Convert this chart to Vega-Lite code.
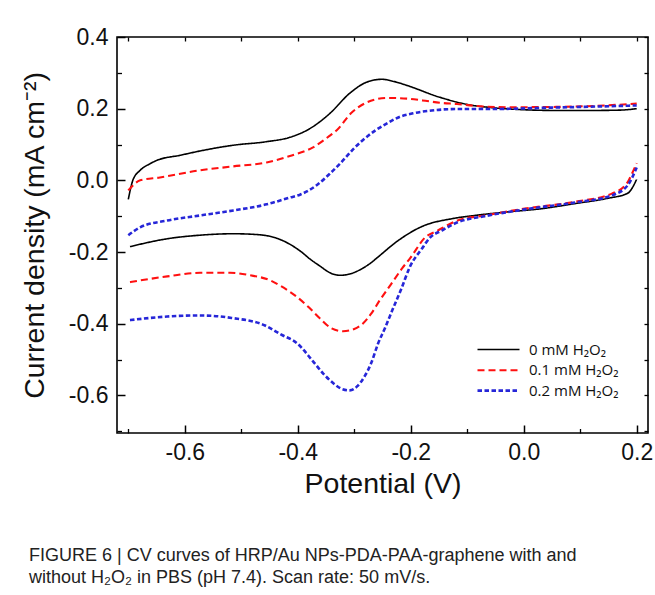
{
 "$schema": "https://vega.github.io/schema/vega-lite/v6.json",
 "width": 531, "height": 396,
 "autosize": {"type": "none"},
 "padding": {"left": 117, "top": 37, "right": 7, "bottom": 162},
 "background": "white",
 "config": {"view": {"stroke": "#000", "strokeWidth": 1.6}, "font": "Liberation Sans"},
 "title": {"text": ["FIGURE 6 | CV curves of HRP/Au NPs-PDA-PAA-graphene with and", "without H₂O₂ in PBS (pH 7.4). Scan rate: 50 mV/s."], "orient": "bottom", "anchor": "start", "frame": "group", "dx": -88, "offset": 49, "fontSize": 18, "fontWeight": "normal", "font": "Liberation Sans", "color": "#222", "lineHeight": 22, "align": "left"},
 "data": {"values": [
  {"c":"0","b":"u","x":-0.700,"y":-0.053},{"c":"0","b":"u","x":-0.692,"y":0.000},{"c":"0","b":"u","x":-0.679,"y":0.028},{"c":"0","b":"u","x":-0.662,"y":0.046},{"c":"0","b":"u","x":-0.649,"y":0.056},{"c":"0","b":"u","x":-0.608,"y":0.070},{"c":"0","b":"u","x":-0.573,"y":0.082},{"c":"0","b":"u","x":-0.514,"y":0.098},{"c":"0","b":"u","x":-0.455,"y":0.108},{"c":"0","b":"u","x":-0.414,"y":0.120},{"c":"0","b":"u","x":-0.378,"y":0.145},{"c":"0","b":"u","x":-0.343,"y":0.187},{"c":"0","b":"u","x":-0.308,"y":0.243},{"c":"0","b":"u","x":-0.278,"y":0.274},{"c":"0","b":"u","x":-0.251,"y":0.282},{"c":"0","b":"u","x":-0.230,"y":0.276},{"c":"0","b":"u","x":-0.207,"y":0.265},{"c":"0","b":"u","x":-0.149,"y":0.232},{"c":"0","b":"u","x":-0.090,"y":0.209},{"c":"0","b":"u","x":-0.057,"y":0.203},{"c":"0","b":"u","x":0.000,"y":0.197},{"c":"0","b":"u","x":0.060,"y":0.195},{"c":"0","b":"u","x":0.120,"y":0.195},{"c":"0","b":"u","x":0.170,"y":0.196},{"c":"0","b":"u","x":0.200,"y":0.200},
  {"c":"0","b":"d","x":-0.697,"y":-0.185},{"c":"0","b":"d","x":-0.631,"y":-0.163},{"c":"0","b":"d","x":-0.573,"y":-0.153},{"c":"0","b":"d","x":-0.514,"y":-0.149},{"c":"0","b":"d","x":-0.475,"y":-0.151},{"c":"0","b":"d","x":-0.440,"y":-0.160},{"c":"0","b":"d","x":-0.419,"y":-0.174},{"c":"0","b":"d","x":-0.395,"y":-0.198},{"c":"0","b":"d","x":-0.378,"y":-0.220},{"c":"0","b":"d","x":-0.360,"y":-0.240},{"c":"0","b":"d","x":-0.343,"y":-0.258},{"c":"0","b":"d","x":-0.325,"y":-0.265},{"c":"0","b":"d","x":-0.305,"y":-0.260},{"c":"0","b":"d","x":-0.287,"y":-0.247},{"c":"0","b":"d","x":-0.272,"y":-0.232},{"c":"0","b":"d","x":-0.258,"y":-0.214},{"c":"0","b":"d","x":-0.224,"y":-0.170},{"c":"0","b":"d","x":-0.179,"y":-0.128},{"c":"0","b":"d","x":-0.127,"y":-0.107},{"c":"0","b":"d","x":-0.087,"y":-0.098},{"c":"0","b":"d","x":-0.028,"y":-0.088},{"c":"0","b":"d","x":0.032,"y":-0.079},{"c":"0","b":"d","x":0.090,"y":-0.065},{"c":"0","b":"d","x":0.149,"y":-0.050},{"c":"0","b":"d","x":0.184,"y":-0.036},{"c":"0","b":"d","x":0.200,"y":0.003},
  {"c":"0.1","b":"u","x":-0.700,"y":-0.028},{"c":"0.1","b":"u","x":-0.679,"y":0.000},{"c":"0.1","b":"u","x":-0.644,"y":0.008},{"c":"0.1","b":"u","x":-0.573,"y":0.028},{"c":"0.1","b":"u","x":-0.514,"y":0.039},{"c":"0.1","b":"u","x":-0.455,"y":0.050},{"c":"0.1","b":"u","x":-0.414,"y":0.068},{"c":"0.1","b":"u","x":-0.373,"y":0.092},{"c":"0.1","b":"u","x":-0.343,"y":0.125},{"c":"0.1","b":"u","x":-0.331,"y":0.140},{"c":"0.1","b":"u","x":-0.304,"y":0.190},{"c":"0.1","b":"u","x":-0.281,"y":0.215},{"c":"0.1","b":"u","x":-0.262,"y":0.226},{"c":"0.1","b":"u","x":-0.242,"y":0.230},{"c":"0.1","b":"u","x":-0.205,"y":0.228},{"c":"0.1","b":"u","x":-0.179,"y":0.223},{"c":"0.1","b":"u","x":-0.145,"y":0.216},{"c":"0.1","b":"u","x":-0.118,"y":0.213},{"c":"0.1","b":"u","x":-0.087,"y":0.208},{"c":"0.1","b":"u","x":-0.028,"y":0.204},{"c":"0.1","b":"u","x":0.060,"y":0.205},{"c":"0.1","b":"u","x":0.130,"y":0.208},{"c":"0.1","b":"u","x":0.200,"y":0.214},
  {"c":"0.1","b":"d","x":-0.697,"y":-0.284},{"c":"0.1","b":"d","x":-0.631,"y":-0.268},{"c":"0.1","b":"d","x":-0.573,"y":-0.258},{"c":"0.1","b":"d","x":-0.520,"y":-0.258},{"c":"0.1","b":"d","x":-0.484,"y":-0.265},{"c":"0.1","b":"d","x":-0.449,"y":-0.279},{"c":"0.1","b":"d","x":-0.430,"y":-0.295},{"c":"0.1","b":"d","x":-0.401,"y":-0.326},{"c":"0.1","b":"d","x":-0.380,"y":-0.355},{"c":"0.1","b":"d","x":-0.361,"y":-0.385},{"c":"0.1","b":"d","x":-0.340,"y":-0.413},{"c":"0.1","b":"d","x":-0.320,"y":-0.421},{"c":"0.1","b":"d","x":-0.300,"y":-0.415},{"c":"0.1","b":"d","x":-0.285,"y":-0.400},{"c":"0.1","b":"d","x":-0.270,"y":-0.372},{"c":"0.1","b":"d","x":-0.255,"y":-0.335},{"c":"0.1","b":"d","x":-0.235,"y":-0.290},{"c":"0.1","b":"d","x":-0.215,"y":-0.245},{"c":"0.1","b":"d","x":-0.200,"y":-0.215},{"c":"0.1","b":"d","x":-0.175,"y":-0.160},{"c":"0.1","b":"d","x":-0.152,"y":-0.140},{"c":"0.1","b":"d","x":-0.117,"y":-0.112},{"c":"0.1","b":"d","x":-0.069,"y":-0.098},{"c":"0.1","b":"d","x":0.002,"y":-0.079},{"c":"0.1","b":"d","x":0.090,"y":-0.060},{"c":"0.1","b":"d","x":0.156,"y":-0.037},{"c":"0.1","b":"d","x":0.184,"y":-0.005},{"c":"0.1","b":"d","x":0.192,"y":0.020},{"c":"0.1","b":"d","x":0.200,"y":0.048},
  {"c":"0.2","b":"u","x":-0.700,"y":-0.153},{"c":"0.2","b":"u","x":-0.679,"y":-0.131},{"c":"0.2","b":"u","x":-0.631,"y":-0.112},{"c":"0.2","b":"u","x":-0.573,"y":-0.098},{"c":"0.2","b":"u","x":-0.514,"y":-0.084},{"c":"0.2","b":"u","x":-0.455,"y":-0.067},{"c":"0.2","b":"u","x":-0.414,"y":-0.048},{"c":"0.2","b":"u","x":-0.396,"y":-0.040},{"c":"0.2","b":"u","x":-0.366,"y":-0.013},{"c":"0.2","b":"u","x":-0.343,"y":0.019},{"c":"0.2","b":"u","x":-0.325,"y":0.047},{"c":"0.2","b":"u","x":-0.300,"y":0.090},{"c":"0.2","b":"u","x":-0.285,"y":0.112},{"c":"0.2","b":"u","x":-0.262,"y":0.140},{"c":"0.2","b":"u","x":-0.242,"y":0.159},{"c":"0.2","b":"u","x":-0.220,"y":0.177},{"c":"0.2","b":"u","x":-0.196,"y":0.187},{"c":"0.2","b":"u","x":-0.163,"y":0.195},{"c":"0.2","b":"u","x":-0.120,"y":0.199},{"c":"0.2","b":"u","x":-0.060,"y":0.199},{"c":"0.2","b":"u","x":0.050,"y":0.203},{"c":"0.2","b":"u","x":0.130,"y":0.206},{"c":"0.2","b":"u","x":0.200,"y":0.209},
  {"c":"0.2","b":"d","x":-0.697,"y":-0.390},{"c":"0.2","b":"d","x":-0.631,"y":-0.380},{"c":"0.2","b":"d","x":-0.573,"y":-0.377},{"c":"0.2","b":"d","x":-0.517,"y":-0.384},{"c":"0.2","b":"d","x":-0.458,"y":-0.405},{"c":"0.2","b":"d","x":-0.430,"y":-0.430},{"c":"0.2","b":"d","x":-0.401,"y":-0.455},{"c":"0.2","b":"d","x":-0.373,"y":-0.505},{"c":"0.2","b":"d","x":-0.355,"y":-0.539},{"c":"0.2","b":"d","x":-0.334,"y":-0.570},{"c":"0.2","b":"d","x":-0.322,"y":-0.582},{"c":"0.2","b":"d","x":-0.308,"y":-0.586},{"c":"0.2","b":"d","x":-0.295,"y":-0.575},{"c":"0.2","b":"d","x":-0.281,"y":-0.545},{"c":"0.2","b":"d","x":-0.270,"y":-0.510},{"c":"0.2","b":"d","x":-0.258,"y":-0.456},{"c":"0.2","b":"d","x":-0.245,"y":-0.410},{"c":"0.2","b":"d","x":-0.232,"y":-0.360},{"c":"0.2","b":"d","x":-0.216,"y":-0.300},{"c":"0.2","b":"d","x":-0.202,"y":-0.243},{"c":"0.2","b":"d","x":-0.180,"y":-0.190},{"c":"0.2","b":"d","x":-0.166,"y":-0.160},{"c":"0.2","b":"d","x":-0.145,"y":-0.140},{"c":"0.2","b":"d","x":-0.117,"y":-0.117},{"c":"0.2","b":"d","x":-0.069,"y":-0.100},{"c":"0.2","b":"d","x":0.002,"y":-0.081},{"c":"0.2","b":"d","x":0.090,"y":-0.062},{"c":"0.2","b":"d","x":0.156,"y":-0.042},{"c":"0.2","b":"d","x":0.184,"y":-0.014},{"c":"0.2","b":"d","x":0.200,"y":0.036}
 ]},
 "layer": [
  {
   "mark": {"type": "line", "interpolate": "monotone"},
   "encoding": {
    "x": {"field": "x", "type": "quantitative", "scale": {"domain": [-0.72, 0.22], "nice": false, "zero": false},
      "axis": {"orient": "bottom", "values": [-0.6, -0.4, -0.2, 0, 0.2], "labelExpr": "datum.value < 0 ? '-' + format(-datum.value, '.1f') : format(datum.value, '.1f')", "domain": false, "grid": false, "ticks": false, "labelPadding": 8, "labelFontSize": 23, "labelColor": "#111", "labelFont": "Liberation Sans", "title": "Potential (V)", "titleFontSize": 28.5, "titleFontWeight": "normal", "titleColor": "#111", "titleFont": "Liberation Sans", "titlePadding": 5}},
    "y": {"field": "y", "type": "quantitative", "scale": {"domain": [-0.705, 0.4], "nice": false, "zero": false},
      "axis": {"orient": "left", "values": [-0.6, -0.4, -0.2, 0, 0.2, 0.4], "labelExpr": "datum.value < 0 ? '-' + format(-datum.value, '.1f') : format(datum.value, '.1f')", "domain": false, "grid": false, "ticks": false, "labelPadding": 9, "labelFontSize": 23, "labelColor": "#111", "labelFont": "Liberation Sans", "title": "Current density (mA cm⁻²)", "titleFontSize": 28.5, "titleFontWeight": "normal", "titleColor": "#111", "titleFont": "Liberation Sans", "titlePadding": 19}},
    "color": {"field": "c", "type": "nominal", "scale": {"domain": ["0", "0.1", "0.2"], "range": ["#000000", "#ff1010", "#2626d8"]},
      "legend": {"orient": "none", "legendX": 369.5, "legendY": 301, "title": null, "symbolType": "M-2,0H2", "symbolSize": 441, "symbolStrokeWidth": 2, "labelFont": "Open Sans", "labelFontSize": 15, "labelColor": "#111", "labelExpr": "datum.label + ' mM H₂O₂'", "labelOffset": 18.5, "rowPadding": 0.3}},
    "strokeDash": {"field": "c", "type": "nominal", "scale": {"domain": ["0", "0.1", "0.2"], "range": [[1, 0], [7, 4], [4.5, 2.5]]}},
    "strokeWidth": {"field": "c", "type": "nominal", "scale": {"domain": ["0", "0.1", "0.2"], "range": [1.6, 2.6, 2]}, "legend": null},
    "detail": {"field": "b"}
   }
  },
  {
   "mark": {"type": "point", "opacity": 0},
   "encoding": {
    "x": {"field": "x", "type": "quantitative", "axis": {"orient": "top", "offset": -4, "values": [-0.7, -0.6, -0.5, -0.4, -0.3, -0.2, -0.1, 0, 0.1, 0.2], "labels": false, "domain": false, "grid": false, "tickSize": 4, "tickWidth": 1.3, "tickColor": "#000", "title": null}},
    "y": {"field": "y", "type": "quantitative", "axis": {"orient": "right", "offset": -4, "values": [-0.7, -0.6, -0.5, -0.4, -0.3, -0.2, -0.1, 0, 0.1, 0.2, 0.3, 0.4], "labels": false, "domain": false, "grid": false, "tickSize": 4, "tickWidth": 1.3, "tickColor": "#000", "title": null}}
   }
  },
  {
   "mark": {"type": "point", "opacity": 0},
   "encoding": {
    "x": {"field": "x", "type": "quantitative", "axis": {"orient": "bottom", "offset": -8, "values": [-0.6, -0.4, -0.2, 0, 0.2], "labels": false, "domain": false, "grid": false, "tickSize": 8, "tickWidth": 1.5, "tickColor": "#000", "title": null}},
    "y": {"field": "y", "type": "quantitative", "axis": {"orient": "left", "offset": -8, "values": [-0.6, -0.4, -0.2, 0, 0.2, 0.4], "labels": false, "domain": false, "grid": false, "tickSize": 8, "tickWidth": 1.5, "tickColor": "#000", "title": null}}
   }
  },
  {
   "mark": {"type": "point", "opacity": 0},
   "encoding": {
    "x": {"field": "x", "type": "quantitative", "axis": {"orient": "bottom", "offset": -4.5, "values": [-0.7, -0.5, -0.3, -0.1, 0.1], "labels": false, "domain": false, "grid": false, "tickSize": 4.5, "tickWidth": 1.3, "tickColor": "#000", "title": null}},
    "y": {"field": "y", "type": "quantitative", "axis": {"orient": "left", "offset": -4.5, "values": [-0.7, -0.5, -0.3, -0.1, 0.1, 0.3], "labels": false, "domain": false, "grid": false, "tickSize": 4.5, "tickWidth": 1.3, "tickColor": "#000", "title": null}}
   }
  }
 ],
 "resolve": {"axis": {"x": "independent", "y": "independent"}}
}
